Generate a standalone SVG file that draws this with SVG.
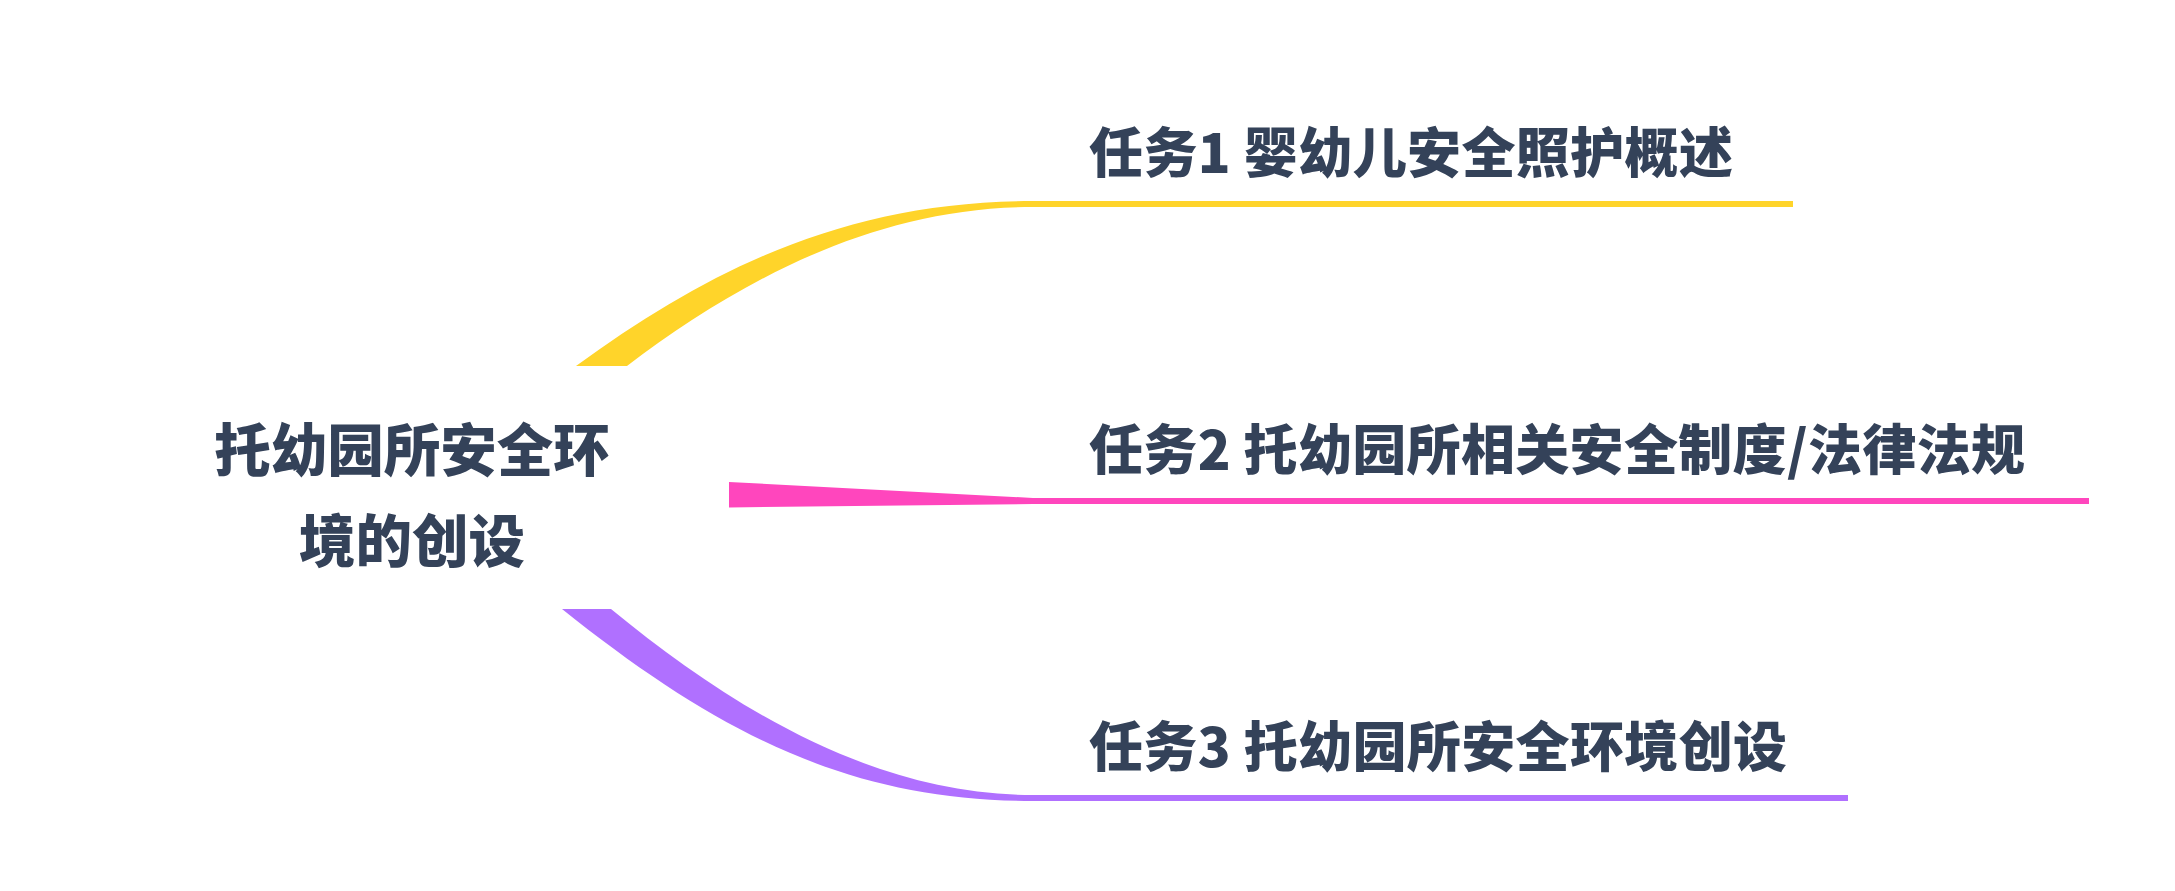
<svg xmlns="http://www.w3.org/2000/svg" width="2175" height="891" viewBox="0 0 2175 891">
<style>
.t{font-family:"Noto Sans CJK SC","Noto Sans",sans-serif;font-weight:900;fill:#344259}
.c{font-size:56.5px}
.s{font-size:54px}
</style>
<rect width="2175" height="891" fill="#ffffff"/>
<g id="connectors">
<path fill="#FFD42A" d="M576,366 C716,263.8 853,201 1033,201 L1793,201 L1793,207 L1033,207 C873,207 737,282.7 627,366 Z"/>
<path fill="#FF46BD" d="M729,482 L1033,498 L2089,498 L2089,504 L1033,504 L729,507.5 Z"/>
<path fill="#B070FF" d="M562,609 C722,737 853,801 1033,801 L1848,801 L1848,795 L1033,795 C873,795 731,707.4 611,609 Z"/>
</g>
<g id="root">
<text class="t c" x="412" y="470.5" text-anchor="middle">托幼园所安全环</text>
<text class="t c" x="412" y="562" text-anchor="middle">境的创设</text>
</g>
<g id="task1">
<text class="t s" x="1089" y="173" textLength="644" lengthAdjust="spacing">任务1 婴幼儿安全照护概述</text>
</g>
<g id="task2">
<text class="t s" x="1089" y="469.5" textLength="936" lengthAdjust="spacing">任务2 托幼园所相关安全制度/法律法规</text>
</g>
<g id="task3">
<text class="t s" x="1089" y="767" textLength="698" lengthAdjust="spacing">任务3 托幼园所安全环境创设</text>
</g>
</svg>
